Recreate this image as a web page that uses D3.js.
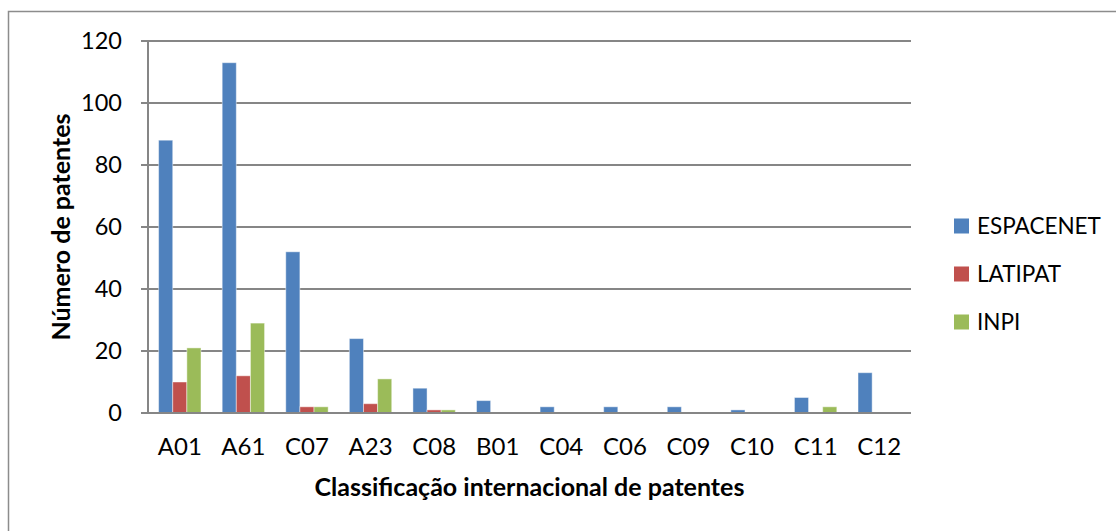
<!DOCTYPE html>
<html>
<head>
<meta charset="utf-8">
<script src="https://cdn.jsdelivr.net/npm/d3@7"></script>
<style>
	body { margin: 0; background: #fff; }
	text { font-family: Lato, "Liberation Sans", sans-serif; fill: #000; }
</style>
</head>
<body>
<script>
let categories = ["A01", "A61", "C07", "A23", "C08", "B01", "C04", "C06", "C09", "C10", "C11", "C12"];
let seriesNames = ["ESPACENET", "LATIPAT", "INPI"];
let espacenet = [88, 113, 52, 24, 8, 4, 2, 2, 2, 1, 5, 13];
let latipat = [10, 12, 2, 3, 1, 0, 0, 0, 0, 0, 0, 0];
let inpi = [21, 29, 2, 11, 1, 0, 0, 0, 0, 0, 2, 0];
let yTicks = [0, 20, 40, 60, 80, 100, 120];
let colors = ["#4F81BD", "#C0504D", "#9BBB59"];

let width = 1116;
let height = 531;
let margin = {left: 148, right: 205, top: 41, bottom: 118};

let svg = d3.select("body").append("svg")
	.attr("width", width)
	.attr("height", height);

// outer chart border (only top/left fall inside the picture)
svg.append("rect")
	.attr("x", 8.5)
	.attr("y", 11.5)
	.attr("width", width + 20)
	.attr("height", height + 20)
	.attr("fill", "none")
	.attr("stroke", "#8c8c8c")
	.attr("stroke-width", 1.5);

let x0 = d3.scaleBand()
	.domain(categories)
	.range([margin.left, width - margin.right]);

// excel gap width 150%: bar = band / (3 + 1.5)
let gap = x0.bandwidth() * 1.5 / 4.5;
let x1 = d3.scaleBand()
	.domain(seriesNames)
	.range([gap / 2, x0.bandwidth() - gap / 2]);

let y = d3.scaleLinear()
	.domain([0, 120])
	.range([height - margin.bottom, margin.top]);

// gridlines
svg.append("g")
	.selectAll("line")
	.data(yTicks)
	.enter().append("line")
	.attr("x1", margin.left - 7)
	.attr("x2", width - margin.right)
	.attr("y1", d => y(d))
	.attr("y2", d => y(d))
	.attr("stroke", "#868686")
	.attr("stroke-width", 2);

// y axis line
svg.append("line")
	.attr("x1", margin.left)
	.attr("x2", margin.left)
	.attr("y1", y(0))
	.attr("y2", y(120))
	.attr("stroke", "#868686")
	.attr("stroke-width", 2);

svg.append("g")
	.selectAll("text")
	.data(yTicks)
	.enter().append("text")
	.attr("x", 122)
	.attr("y", d => y(d))
	.attr("dy", "0.36em")
	.attr("text-anchor", "end")
	.style("font-size", "23.5px")
	.text(d => d);

let series = [espacenet, latipat, inpi];
let rows = [];
series.forEach((vals, i) => {
	vals.forEach((v, j) => {
		rows.push({cat: categories[j], name: seriesNames[i], value: v, color: colors[i]});
	});
});

svg.append("g")
	.selectAll("rect")
	.data(rows.filter(d => d.value > 0))
	.enter().append("rect")
	.attr("x", d => x0(d.cat) + x1(d.name))
	.attr("y", d => y(d.value))
	.attr("width", x1.bandwidth())
	.attr("height", d => y(0) - y(d.value))
	.attr("fill", d => d.color)
	.attr("stroke", "rgba(255,255,255,0.45)")
	.attr("stroke-width", 1);

// bottom axis line over the bars
svg.append("line")
	.attr("x1", margin.left - 7)
	.attr("x2", width - margin.right)
	.attr("y1", y(0))
	.attr("y2", y(0))
	.attr("stroke", "#868686")
	.attr("stroke-width", 2);

svg.append("g")
	.selectAll("text")
	.data(categories)
	.enter().append("text")
	.attr("x", d => x0(d) + x0.bandwidth() / 2)
	.attr("y", 455)
	.attr("text-anchor", "middle")
	.style("font-size", "24px")
	.text(d => d);

svg.append("text")
	.attr("x", (margin.left + width - margin.right) / 2)
	.attr("y", 496)
	.attr("text-anchor", "middle")
	.style("font-size", "25px")
	.style("font-weight", "bold")
	.text("Classificação internacional de patentes");

svg.append("text")
	.attr("transform", "translate(70," + ((y(0) + y(120)) / 2) + ") rotate(-90)")
	.attr("text-anchor", "middle")
	.style("font-size", "25px")
	.style("font-weight", "bold")
	.text("Número de patentes");

let legend = svg.append("g")
	.selectAll("g")
	.data(seriesNames)
	.enter().append("g")
	.attr("transform", (d, i) => "translate(954," + (226 + i * 48) + ")");

legend.append("rect")
	.attr("x", 0)
	.attr("y", -7.5)
	.attr("width", 15)
	.attr("height", 15)
	.attr("fill", (d, i) => colors[i]);

legend.append("text")
	.attr("x", 23)
	.attr("y", 0)
	.attr("dy", "0.36em")
	.style("font-size", "22.5px")
	.text(d => d);
</script>
</body>
</html>
